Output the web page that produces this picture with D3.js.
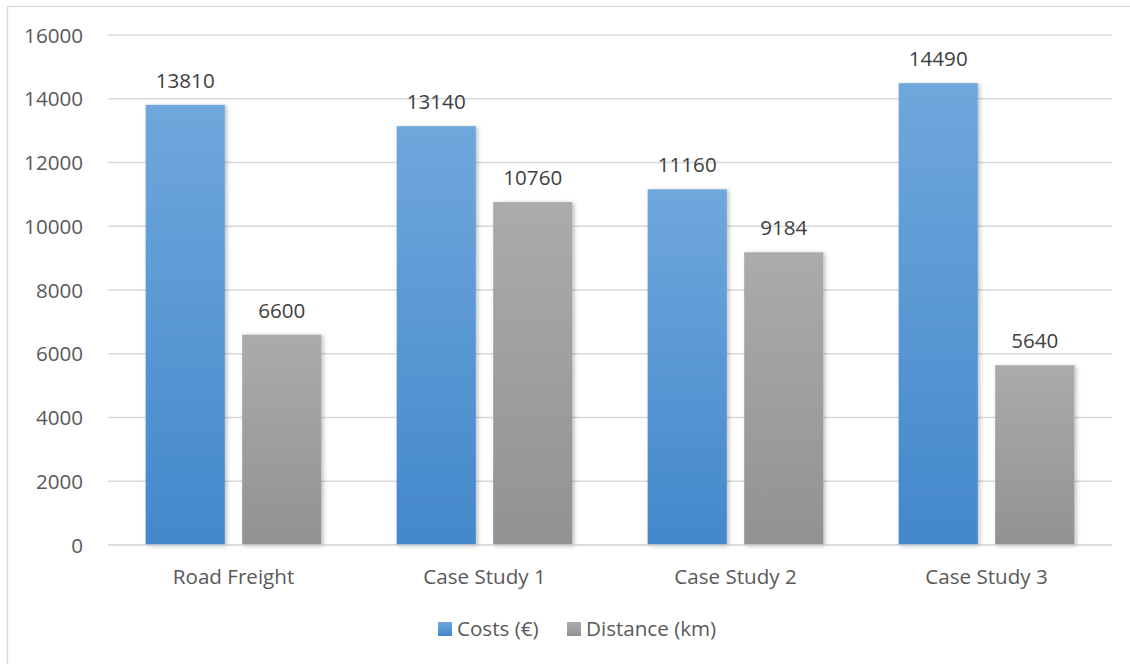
<!DOCTYPE html>
<html>
<head>
<meta charset="utf-8">
<script src="https://cdn.jsdelivr.net/npm/d3@7"></script>
<style>
  body { margin: 0; background: #fff; }
  text { font-family: "Open Sans", "Noto Sans", sans-serif; }
</style>
</head>
<body>
<script>
var categories = ["Road Freight", "Case Study 1", "Case Study 2", "Case Study 3"];
var seriesNames = ["Costs (€)", "Distance (km)"];
var costs = [13810, 13140, 11160, 14490];
var distance = [6600, 10760, 9184, 5640];
var yTicks = [0, 2000, 4000, 6000, 8000, 10000, 12000, 14000, 16000];

var width = 1130, height = 664;
var fontSize = 20.6;

var svg = d3.select("body").append("svg")
    .attr("width", width)
    .attr("height", height);

var defs = svg.append("defs");

var gradBlue = defs.append("linearGradient").attr("id", "gBlue")
    .attr("x1", 0).attr("y1", 0).attr("x2", 0).attr("y2", 1);
gradBlue.append("stop").attr("offset", "0%").attr("stop-color", "#6fa7dc");
gradBlue.append("stop").attr("offset", "100%").attr("stop-color", "#4388cb");

var gradGrey = defs.append("linearGradient").attr("id", "gGrey")
    .attr("x1", 0).attr("y1", 0).attr("x2", 0).attr("y2", 1);
gradGrey.append("stop").attr("offset", "0%").attr("stop-color", "#ababab");
gradGrey.append("stop").attr("offset", "100%").attr("stop-color", "#929292");

var shadow = defs.append("filter").attr("id", "shadow")
    .attr("x", "-20%").attr("y", "-10%").attr("width", "140%").attr("height", "120%");
shadow.append("feDropShadow")
    .attr("dx", 2).attr("dy", 1).attr("stdDeviation", 2)
    .attr("flood-color", "#000").attr("flood-opacity", 0.25);

// chart border
svg.append("rect")
    .attr("x", 7.5).attr("y", 6.5)
    .attr("width", 1140).attr("height", 680)
    .attr("fill", "none")
    .attr("stroke", "#d9d9d9")
    .attr("stroke-width", 1.3);

var x0 = d3.scaleBand()
    .domain(categories)
    .range([108, 1112])
    .paddingInner(0.3)
    .paddingOuter(0.15);

var x1 = d3.scaleBand()
    .domain(seriesNames)
    .range([0, x0.bandwidth()])
    .paddingInner(0.18);

var y = d3.scaleLinear()
    .domain([0, 16000])
    .range([545, 35]);

var color = d3.scaleOrdinal()
    .domain(seriesNames)
    .range(["url(#gBlue)", "url(#gGrey)"]);

// gridlines
svg.append("g")
  .selectAll("line")
  .data(yTicks.filter(function(d) { return d > 0; }))
  .enter().append("line")
    .attr("x1", 108).attr("x2", 1112)
    .attr("y1", function(d) { return y(d); })
    .attr("y2", function(d) { return y(d); })
    .attr("stroke", "#d9d9d9")
    .attr("stroke-width", 1.3);

// y tick labels
var yAxis = d3.axisLeft(y)
    .tickValues(yTicks)
    .tickSize(0)
    .tickPadding(0)
    .tickFormat(d3.format("d"));

var gy = svg.append("g")
    .attr("transform", "translate(83,0)")
    .call(yAxis);
gy.select(".domain").remove();
gy.selectAll("text")
    .attr("fill", "#595959")
    .attr("font-size", fontSize)
    .attr("dy", "0.35em");

var rows = categories.map(function(c, i) {
  return { cat: c, values: [
    { name: seriesNames[0], value: costs[i] },
    { name: seriesNames[1], value: distance[i] }
  ]};
});

var groups = svg.append("g").selectAll("g")
  .data(rows)
  .enter().append("g")
    .attr("transform", function(d) { return "translate(" + x0(d.cat) + ",0)"; });

groups.selectAll("rect")
  .data(function(d) { return d.values; })
  .enter().append("rect")
    .attr("x", function(d) { return x1(d.name); })
    .attr("y", function(d) { return y(d.value); })
    .attr("width", x1.bandwidth())
    .attr("height", function(d) { return y(0) - y(d.value); })
    .attr("fill", function(d) { return color(d.name); })
    .attr("filter", "url(#shadow)");

groups.selectAll("text.val")
  .data(function(d) { return d.values; })
  .enter().append("text")
    .attr("class", "val")
    .attr("x", function(d) { return x1(d.name) + x1.bandwidth() / 2; })
    .attr("y", function(d) { return y(d.value) - 17; })
    .attr("text-anchor", "middle")
    .attr("fill", "#404040")
    .attr("font-size", fontSize)
    .text(function(d) { return d.value; });

// x axis
svg.append("line")
    .attr("x1", 108).attr("x2", 1112)
    .attr("y1", y(0)).attr("y2", y(0))
    .attr("stroke", "#d0d0d0")
    .attr("stroke-width", 1.5);

var xAxis = d3.axisBottom(x0).tickSize(0).tickPadding(0);
var gx = svg.append("g")
    .attr("transform", "translate(0,584)")
    .call(xAxis);
gx.select(".domain").remove();
gx.selectAll("text")
    .attr("fill", "#595959")
    .attr("font-size", fontSize)
    .attr("dy", 0);

// legend
var legendX = [438, 567];
var legend = svg.append("g").selectAll("g")
  .data(seriesNames)
  .enter().append("g")
    .attr("transform", function(d, i) { return "translate(" + legendX[i] + ",622)"; });

legend.append("rect")
    .attr("width", 14).attr("height", 14)
    .attr("fill", function(d) { return color(d); });

legend.append("text")
    .attr("x", 19)
    .attr("y", 14)
    .attr("fill", "#595959")
    .attr("font-size", fontSize)
    .text(function(d) { return d; });
</script>
</body>
</html>
